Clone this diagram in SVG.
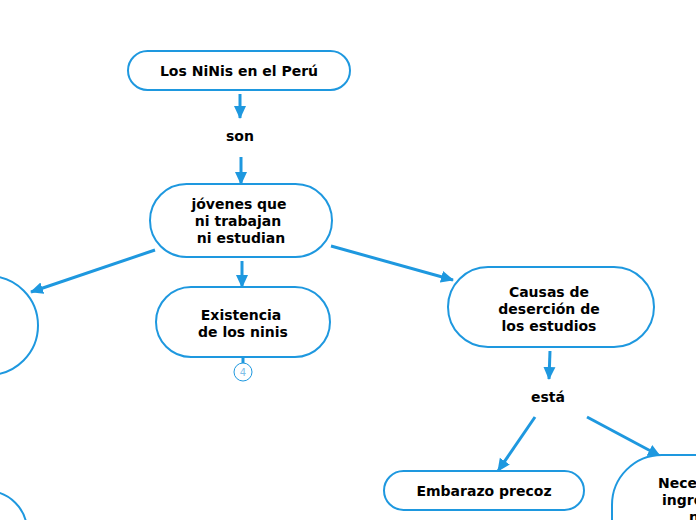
<svg xmlns="http://www.w3.org/2000/svg" width="696" height="520" viewBox="0 0 696 520">
<defs>
<marker id="ah" markerUnits="userSpaceOnUse" markerWidth="14" markerHeight="14" viewBox="0 0 14 14" refX="12" refY="7" orient="auto">
<path d="M0,1 L13,7 L0,13 Z" fill="#1e98df"/>
</marker>
<style>
.n{fill:#fff;stroke:#1e98df;stroke-width:2}
.t{font-family:"DejaVu Sans",Verdana,sans-serif;font-weight:bold;font-size:14px;fill:#000;text-anchor:middle}
.c{stroke:#1e98df;stroke-width:3;fill:none;marker-end:url(#ah)}
</style>
</defs>
<rect width="696" height="520" fill="#fff"/>
<g id="connectors">
<line class="c" x1="240" y1="94" x2="240" y2="118"/>
<line class="c" x1="241" y1="157" x2="241" y2="184"/>
<line class="c" x1="242" y1="261" x2="242" y2="287"/>
<line class="c" x1="155" y1="250" x2="31" y2="292"/>
<line class="c" x1="331" y1="246" x2="453" y2="280"/>
<line class="c" x1="550" y1="351" x2="549" y2="379"/>
<line class="c" x1="535" y1="417" x2="498" y2="471"/>
<line class="c" x1="587" y1="417" x2="660" y2="456"/>
</g>
<g id="n1"><rect class="n" x="128" y="51" width="222" height="39" rx="19.5"/><text class="t" x="239" y="76">Los NiNis en el Perú</text></g>
<g id="son"><text class="t" x="240" y="141">son</text></g>
<g id="n2"><rect class="n" x="150" y="184" width="182" height="73" rx="36.5"/>
<text class="t" x="239" y="209">jóvenes que</text><text class="t" x="238" y="226">ni trabajan</text><text class="t" x="241" y="243">ni estudian</text></g>
<g id="n3"><rect class="n" x="156" y="287" width="174" height="70" rx="35"/>
<text class="t" x="241" y="320">Existencia</text><text class="t" x="243" y="337">de los ninis</text>
<line x1="243" y1="357" x2="243" y2="363" stroke="#1e98df" stroke-width="3"/>
<circle cx="243" cy="372" r="9" fill="#fff" stroke="#1e98df" stroke-width="1"/>
<text x="243" y="376" font-family="DejaVu Sans,sans-serif" font-size="10" fill="#7fbfe8" text-anchor="middle">4</text></g>
<g id="nleft"><rect class="n" x="-200" y="276" width="238" height="99" rx="49.5"/></g>
<g id="nleft2"><rect class="n" x="-200" y="491" width="227" height="80" rx="40"/></g>
<g id="n4"><rect class="n" x="448" y="267" width="206" height="80" rx="40"/>
<text class="t" x="549" y="297">Causas de</text><text class="t" x="549" y="314">deserción de</text><text class="t" x="549" y="331">los estudios</text></g>
<g id="esta"><text class="t" x="548" y="402">está</text></g>
<g id="n5"><rect class="n" x="384" y="471" width="200" height="39" rx="19.5"/><text class="t" x="484" y="496">Embarazo precoz</text></g>
<g id="n6"><rect class="n" x="612" y="455" width="220" height="120" rx="50"/>
<text class="t" x="658" y="488" style="text-anchor:start">Necesidad de</text>
<text class="t" x="662" y="505" style="text-anchor:start">ingresos</text>
<text class="t" x="689" y="522" style="text-anchor:start">n</text></g>
</svg>
